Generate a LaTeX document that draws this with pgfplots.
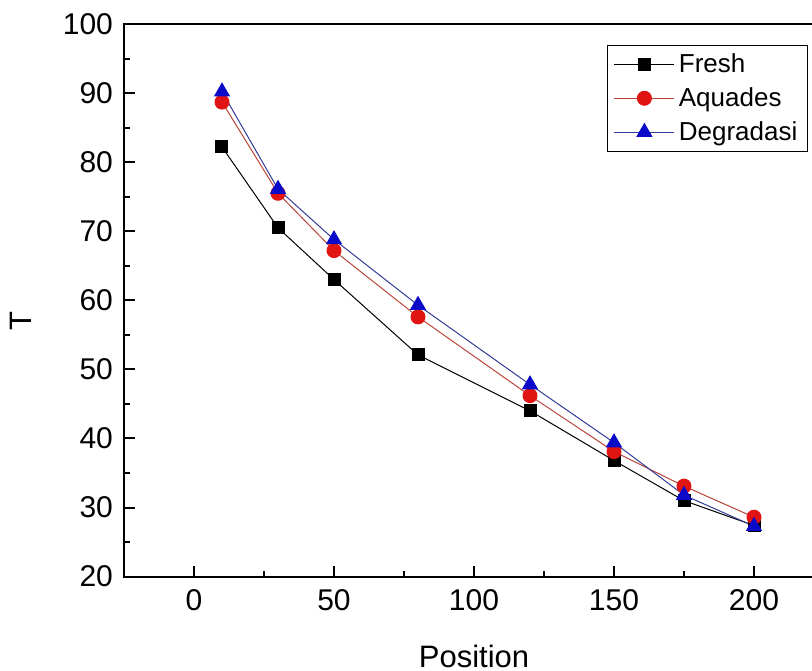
\documentclass[border=0pt]{standalone}
\usepackage{fontspec}
\setmainfont{Liberation Sans}
\usepackage{pgfplots}
\pgfplotsset{compat=1.18}

\definecolor{frc}{RGB}{0,0,0}
\definecolor{aqm}{RGB}{225,20,20}
\definecolor{aql}{RGB}{185,70,55}
\definecolor{dgm}{RGB}{10,10,200}
\definecolor{dgl}{RGB}{50,60,150}

\begin{document}
\begin{tikzpicture}
\begin{axis}[
  scale only axis,
  width=350pt, height=276.3pt,
  xmin=-25, xmax=225,
  ymin=20, ymax=100,
  xtick={0,50,100,150,200},
  ytick={20,30,40,50,60,70,80,90,100},
  minor x tick num=1,
  minor y tick num=1,
  tick align=inside,
  xtick pos=left, ytick pos=left,
  major tick length=5.5pt,
  minor tick length=3pt,
  axis line style={line width=1pt},
  every tick/.style={black, line width=1pt},
  /pgf/number format/assume math mode=true,
  tick label style={font=\fontsize{15}{18}\selectfont},
  yticklabel style={xshift=-2pt},
  xticklabel style={yshift=-3pt},
  xlabel={Position},
  ylabel={T},
  xlabel style={at={(axis description cs:0.5,0)}, anchor=north, yshift=-30.5pt,
    font=\fontsize{15.5}{18}\selectfont},
  ylabel style={at={(axis description cs:0,0.4626)}, anchor=center, yshift=51.5pt,
    font=\fontsize{15.5}{18}\selectfont},
  legend style={
    at={(0.977,0.962)}, anchor=north east,
    draw=black, line width=0.5pt,
    font=\fontsize{13}{15}\selectfont,
    row sep=2pt, inner xsep=3pt, inner ysep=2pt,
  },
  legend cell align=left,
  legend image code/.code={\draw[mark repeat=2,mark phase=2] plot coordinates {(0pt,0pt) (15pt,0pt) (30pt,0pt)};},
]
\coordinate (O) at (rel axis cs:0,0);

\addplot[color=frc, line width=0.5pt, mark=square*, mark size=3pt,
  mark options={fill=frc, draw=frc}] coordinates {
  (10,82.2) (30,70.5) (50,63.0) (80,52.1) (120,44.0) (150,36.8) (175,31.0) (200,27.4)
};
\addlegendentry{Fresh}

\addplot[color=aql, line width=0.5pt, mark=*, mark size=3.5pt,
  mark options={fill=aqm, draw=aqm}] coordinates {
  (10,88.7) (30,75.5) (50,67.2) (80,57.6) (120,46.2) (150,38.1) (175,33.1) (200,28.6)
};
\addlegendentry{Aquades}

\addplot[color=dgl, line width=0.5pt, mark=triangle*, mark size=4.2pt,
  mark options={fill=dgm, draw=dgm}] coordinates {
  (10,90.2) (30,76.1) (50,68.8) (80,59.3) (120,47.8) (150,39.4) (175,31.8) (200,27.3)
};
\addlegendentry{Degradasi}
\end{axis}
\pgfresetboundingbox
\path[use as bounding box] ([xshift=-62pt,yshift=-47.15pt]O) rectangle ([xshift=344pt,yshift=288.3pt]O);
\end{tikzpicture}
\end{document}
